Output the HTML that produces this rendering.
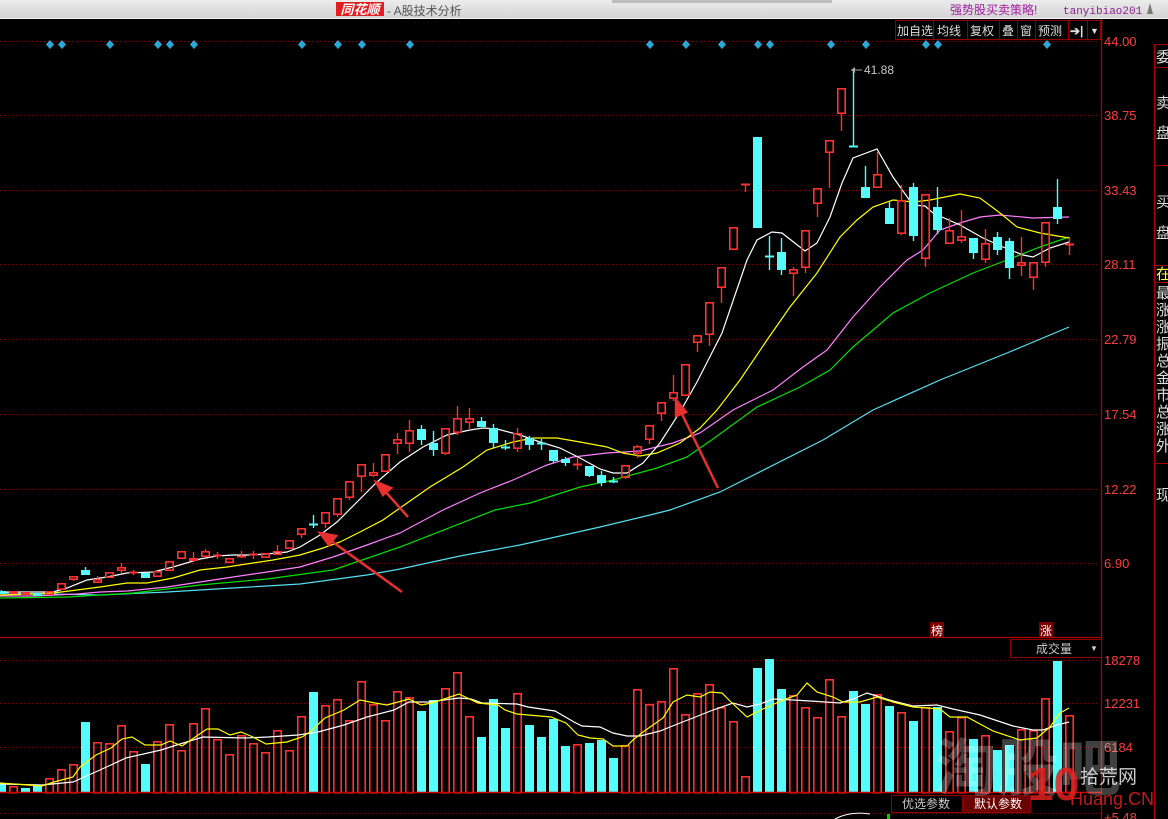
<!DOCTYPE html>
<html><head><meta charset="utf-8">
<style>
html,body{margin:0;padding:0;background:#000;width:1168px;height:819px;overflow:hidden;font-family:"Liberation Sans","Noto Sans CJK SC",sans-serif;}
svg{display:block}
</style></head>
<body>
<svg id="s" width="1168" height="819" xmlns="http://www.w3.org/2000/svg" font-family="Liberation Sans, Noto Sans CJK SC, sans-serif">
<defs>
<linearGradient id="tb" x1="0" y1="0" x2="0" y2="1"><stop offset="0" stop-color="#ececec"/><stop offset="1" stop-color="#d4d4d4"/></linearGradient>
</defs>
<rect x="0" y="0" width="1168" height="819" fill="#000"/>
<rect x="0" y="0" width="1168" height="18" fill="url(#tb)"/>
<rect x="0" y="18" width="1168" height="1" fill="#f4f4f4"/>
<rect x="612" y="0" width="220" height="3" fill="#bdbdbd"/>
<rect x="336" y="2" width="48" height="14" fill="#e02020"/>
<text x="360" y="14" font-size="13" font-weight="bold" font-style="italic" fill="#fff" text-anchor="middle">同花顺</text>
<text x="387" y="15" font-size="12" fill="#555">- A股技术分析</text>
<text x="950" y="14" font-size="12" fill="#a020a0">强势股买卖策略!</text>
<text x="1063" y="14" font-size="11" fill="#8a2090" font-family="Liberation Mono, monospace">tanyibiao201</text>
<path d="M1150 3 L1147 14 L1153 14 Z" fill="#777"/>
<g font-size="12" fill="#ddd" shape-rendering="crispEdges">
<rect x="895.5" y="20.5" width="205" height="19" fill="#000" stroke="#900000"/>
<line x1="933.5" y1="20" x2="933.5" y2="39" stroke="#900000"/>
<line x1="967.5" y1="20" x2="967.5" y2="39" stroke="#900000"/>
<line x1="999.5" y1="20" x2="999.5" y2="39" stroke="#900000"/>
<line x1="1017.5" y1="20" x2="1017.5" y2="39" stroke="#900000"/>
<line x1="1035.5" y1="20" x2="1035.5" y2="39" stroke="#900000"/>
<line x1="1068.5" y1="20" x2="1068.5" y2="39" stroke="#900000"/>
<line x1="1087.5" y1="20" x2="1087.5" y2="39" stroke="#900000"/>
</g>
<g font-size="12" fill="#ddd">
<text x="897" y="35">加自选</text><text x="937" y="35">均线</text><text x="970" y="35">复权</text>
<text x="1002" y="35">叠</text><text x="1020" y="35">窗</text><text x="1038" y="35">预测</text>
<text x="1070" y="35" font-weight="bold">➔|</text><text x="1090" y="34" font-size="9">▼</text>
</g>
<line x1="1101.5" y1="19" x2="1101.5" y2="819" stroke="#b00000" stroke-width="1.3"/>
<line x1="1154.5" y1="44" x2="1154.5" y2="819" stroke="#b00000" stroke-width="1.3"/>
<g stroke="#a00000"><line x1="1154" y1="44.5" x2="1168" y2="44.5"/><line x1="1154" y1="67.5" x2="1168" y2="67.5"/><line x1="1154" y1="165.5" x2="1168" y2="165.5"/><line x1="1154" y1="265.5" x2="1168" y2="265.5"/><line x1="1154" y1="282.5" x2="1168" y2="282.5"/><line x1="1154" y1="463.5" x2="1168" y2="463.5"/></g>
<g font-size="15" fill="#ddd">
<text x="1156" y="62">委</text><text x="1156" y="108">卖</text><text x="1156" y="138">盘</text><text x="1156" y="207">买</text><text x="1156" y="238">盘</text>
<text x="1156" y="279" fill="#ffff40">在</text>
<text x="1156" y="298">最</text><text x="1156" y="315">涨</text><text x="1156" y="332">涨</text><text x="1156" y="349">振</text><text x="1156" y="366">总</text><text x="1156" y="383">金</text><text x="1156" y="400">市</text><text x="1156" y="417">总</text><text x="1156" y="434">涨</text><text x="1156" y="451">外</text>
<text x="1156" y="500">现</text>
</g>
<g id="grid" stroke="#8a0000" stroke-dasharray="1,3" shape-rendering="crispEdges"></g>
<g font-size="13" fill="#ff3c3c">
<text x="1104" y="46">44.00</text><text x="1104" y="120">38.75</text><text x="1104" y="195">33.43</text><text x="1104" y="269">28.11</text><text x="1104" y="344">22.79</text><text x="1104" y="419">17.54</text><text x="1104" y="494">12.22</text><text x="1104" y="568">6.90</text>
<text x="1104" y="665">18278</text><text x="1104" y="708">12231</text><text x="1104" y="752">6184</text><text x="1104" y="822">+5.48</text>
</g>
<g id="dia" fill="#2aa8d8"></g>
<g id="ma" fill="none" stroke-width="1.2"></g>
<g id="cand"></g>
<line x1="851" y1="70" x2="862" y2="70" stroke="#aaa"/><path d="M851 70 L855 67 L855 73 Z" fill="#aaa"/>
<text x="864" y="74" font-size="12" fill="#c8c8c8">41.88</text>
<g stroke="#e83030" stroke-width="2.5" fill="#e83030">
<line x1="408" y1="517" x2="384" y2="490"/><path d="M376 482 L391 488 L383 495 Z"/>
<line x1="402" y1="592" x2="330" y2="540"/><path d="M320 533 L336 536 L329 545 Z"/>
<line x1="718" y1="488" x2="680" y2="410"/><path d="M676 400 L686 412 L676 416 Z"/>
</g>
<line x1="0" y1="637.5" x2="1101" y2="637.5" stroke="#b00000" stroke-width="1.3"/>
<rect x="930" y="622" width="14" height="15" fill="#7a0000"/><text x="931" y="635" font-size="12" fill="#fff">榜</text>
<rect x="1039" y="622" width="14" height="15" fill="#7a0000"/><text x="1040" y="635" font-size="12" fill="#fff">涨</text>
<rect x="1010.5" y="639.5" width="91" height="18" fill="#000" stroke="#900000"/>
<text x="1036" y="653" font-size="12" fill="#ccc">成交量</text><text x="1090" y="651" font-size="8" fill="#ccc">▼</text>
<g id="vol"></g>
<g id="vma" fill="none" stroke-width="1.2"></g>
<line x1="0" y1="792.5" x2="1101" y2="792.5" stroke="#d00000" stroke-width="1.6"/>
<line x1="0" y1="813.5" x2="1101" y2="813.5" stroke="#8a0000" stroke-dasharray="1,3" shape-rendering="crispEdges"/>
<rect x="891.5" y="795.5" width="71" height="17" fill="#000" stroke="#900000"/>
<rect x="962.5" y="795.5" width="68" height="17" fill="#6a0000" stroke="#900000"/>
<text x="902" y="808" font-size="12" fill="#ccc">优选参数</text><text x="974" y="808" font-size="12" fill="#fff">默认参数</text>
<path d="M835 819 Q850 811 870 814" stroke="#fff" fill="none"/><rect x="887" y="814" width="3" height="5" fill="#0c0"/>
<text x="935" y="790" font-size="62" font-weight="bold" fill="#fff" fill-opacity="0.25">淘股吧</text>
<text x="1028" y="800" font-size="46" font-weight="bold" fill="#e02020" fill-opacity="0.85">10</text>
<text x="1080" y="783" font-size="19" fill="#fff" fill-opacity="0.8">拾荒网</text>
<text x="1070" y="805" font-size="18" fill="#e02020" fill-opacity="0.85">Huang.CN</text>
</svg>
<script>
var NS="http://www.w3.org/2000/svg";
function el(p,t,a){var e=document.createElementNS(NS,t);for(var k in a)e.setAttribute(k,a[k]);document.getElementById(p).appendChild(e);return e;}
[41,115,190,264,339,414,489,563,660,703,747].forEach(function(y){el("grid","line",{x1:0,y1:y+.5,x2:1100,y2:y+.5});});
[50,62,110,158,170,194,302,338,362,410,650,686,722,758,770,831,866,926,938,1047].forEach(function(x){el("dia","path",{d:"M"+x+" 40 L"+(x+4)+" 44.5 L"+x+" 49 L"+(x-4)+" 44.5 Z"});});
var C=[
"c 591 593 590 594","r 591 593 591 594","r 592 594 592 595","c 593 595 593 596","r 591 594 591 595","r 583 589 583 590","r 576 579 576 581","c 570 574 567 575","r 579 582 576 583","r 572 577 572 578",
"r 567 570 563 573","r 572 573 570 575","c 573 577 573 577","r 571 576 571 577","r 561 570 561 571","r 551 558 551 558","r 558 560 552 562","r 551 556 549 556","r 555 556 552 559","r 558 562 558 562",
"r 556 557 551 558","r 554 555 551 559","r 553 557 553 557","r 551 554 545 555","r 540 548 540 548","r 528 534 528 538","c 524 525 515 528","r 512 523 512 528","r 498 514 498 517","r 481 497 481 500",
"r 464 476 464 492","r 472 475 463 477","r 454 471 454 471","r 439 443 433 454","r 430 443 420 452","c 429 439 425 445","c 443 449 431 456","r 428 453 428 455","r 418 432 406 435","r 418 422 408 430",
"c 421 426 417 426","c 428 442 424 448","c 447 448 440 450","r 433 448 428 452","c 438 444 436 450","c 443 444 439 450","c 450 460 450 463","c 459 462 457 466","r 464 465 457 470","c 466 475 466 477",
"c 475 482 471 486","c 481 482 477 483","r 465 477 465 479","r 446 453 445 458","r 425 439 425 444","r 402 413 402 421","r 392 398 375 401","r 364 395 364 395","r 335 342 335 352","r 302 334 302 346",
"r 267 287 267 303","r 227 249 227 249","r 184 185 184 192","c 137 227 137 227","c 256 257 236 270","c 252 269 238 275","r 269 273 267 296","r 230 267 230 273","r 188 203 188 217","r 140 152 140 188",
"r 88 113 88 131","c 146 147 70 147","c 187 197 166 197","r 174 187 152 187","c 208 223 202 223","r 200 233 185 235","c 187 235 183 241","r 194 258 194 267","c 207 229 187 234","r 230 243 218 243",
"r 236 240 210 243","c 238 252 238 259","r 243 259 229 263","c 237 249 232 255","c 241 267 238 279","r 262 265 237 276","r 262 277 262 290","r 222 262 222 267","c 207 218 179 224","r 244 245 237 255"];
var R="#ff3030",CY="#54fcfc";
C.forEach(function(s,i){var a=s.split(" "),t=a[0],bt=+a[1],bb=+a[2],h=+a[3],l=+a[4];var x=12*i-3,cx=12*i+1.5;
 var col=t=="r"?R:CY;
 if(h<bt)el("cand","line",{x1:cx,y1:h,x2:cx,y2:bt,stroke:col,"stroke-width":1.4});
 if(l>bb)el("cand","line",{x1:cx,y1:bb,x2:cx,y2:l,stroke:col,"stroke-width":1.4});
 if(bb-bt<=1){el("cand","line",{x1:x,y1:bt+.5,x2:x+9,y2:bt+.5,stroke:col,"stroke-width":2});}
 else if(t=="r")el("cand","rect",{x:x+.8,y:bt+.8,width:7.4,height:bb-bt-.6,fill:"none",stroke:col,"stroke-width":1.6});
 else el("cand","rect",{x:x,y:bt,width:9,height:bb-bt+1,fill:col});
});
var V="c784 r786 c788 c785 r778 r769 r764 c722 r742 r743 r725 r751 c764 r741 r724 r750 r723 r708 r739 r754 r735 r743 r752 r730 r750 r716 c692 r705 r699 r720 r681 r704 r720 r691 r697 c711 c700 r688 r672 r716 c737 c699 c728 r693 c725 c737 c719 c746 r744 c743 c740 c758 r745 r689 r704 r701 r668 r714 r693 r684 r707 r721 r776 c668 c659 c689 r695 r707 r717 r679 r716 c691 c704 r694 c706 r712 c721 r707 c707 r731 r717 c739 r735 c750 c745 r729 r730 r698 c661 r715".split(" ");
V.forEach(function(s,i){var t=s[0],y=+s.slice(1),x=12*i-3;
 if(t=="r")el("vol","rect",{x:x+.8,y:y+.8,width:7.4,height:792-y,fill:"none",stroke:R,"stroke-width":1.6});
 else el("vol","rect",{x:x,y:y,width:9,height:792-y,fill:CY});});
function pl(g,col,pts){el(g,"polyline",{points:pts,stroke:col});}
pl("ma","#54e0f0","0,593 100,595 167,592 233,588 300,584 367,575 400,569 460,556 520,545 600,527 650,515 670,510 720,492 823,440 873,410 940,380 1007,353 1069,327");
pl("ma","#00e000","0,598 67,597 133,593 200,585 267,579 333,570 400,547 495,510 530,503 580,487 613,480 657,468 687,457 713,439 757,407 800,387 830,370 853,347 893,313 930,293 973,273 1007,260 1040,247 1069,237");
pl("ma","#ff80ff","0,596 33,596 77,594 100,592 127,591 167,587 200,582 233,577 267,572 300,567 333,557 367,545 400,533 443,510 480,493 513,480 547,465 573,457 607,453 640,451 673,443 700,433 733,410 773,390 803,367 827,350 853,317 880,287 907,260 923,250 940,230 960,223 980,217 1000,215 1033,218 1069,217");
pl("ma","#ffff00","0,595 33,594 53,593 77,590 100,587 127,583 147,583 173,578 200,570 227,567 253,563 273,560 300,555 323,548 340,542 360,532 383,520 400,508 430,487 463,467 487,450 513,442 533,438 557,438 580,442 607,447 623,453 640,456 657,453 680,443 700,428 717,410 740,380 767,340 790,307 817,273 840,237 857,220 873,207 893,200 913,202 930,200 960,194 980,198 1000,213 1017,227 1040,233 1069,238");
pl("ma","#ffffff","0,592 32,592 53,592 67,588 87,580 107,577 127,573 153,572 173,567 200,559 217,556 233,555 250,555 267,554 287,552 300,547 320,535 337,522 357,502 377,482 400,462 423,447 447,435 470,430 483,428 497,429 520,435 540,442 560,448 580,458 600,469 613,473 627,473 643,463 660,443 680,412 697,382 722,333 747,260 757,240 772,232 782,233 805,251 817,243 830,217 842,183 853,158 877,149 893,177 913,205 925,206 933,213 960,225 983,238 1003,247 1023,255 1033,257 1050,248 1069,242");
pl("vma","#ffffff","0,784 42,785 73,782 100,770 126,758 161,750 180,744 203,737 245,738 268,737 298,735 318,732 344,725 367,717 394,710 409,702 429,702 459,698 471,699 482,703 517,704 528,707 555,711 574,722 582,726 600,727 613,733 627,736 640,736 660,731 680,723 693,718 713,710 733,703 747,707 760,704 773,699 793,700 810,701 840,703 853,699 867,693 880,697 893,701 913,706 937,705 953,709 980,715 1013,726 1033,730 1043,730 1057,725 1069,722");
pl("vma","#ffff00","0,783 42,786 54,782 73,777 80,767 96,755 111,748 122,739 132,737 145,745 161,745 170,741 182,746 207,729 218,729 230,735 241,732 253,737 266,744 287,742 302,737 310,732 325,718 344,710 360,700 375,703 387,705 409,699 421,705 432,703 459,694 478,703 498,705 505,710 517,714 551,717 566,723 578,735 590,738 603,739 613,746 627,746 633,740 643,732 663,718 673,702 687,695 700,697 710,692 722,693 730,701 747,717 763,709 783,700 797,695 807,683 817,692 833,697 843,702 860,702 877,697 893,702 913,707 940,709 950,717 967,717 993,731 1020,740 1037,738 1050,727 1060,713 1069,708");
</script>
</body></html>
